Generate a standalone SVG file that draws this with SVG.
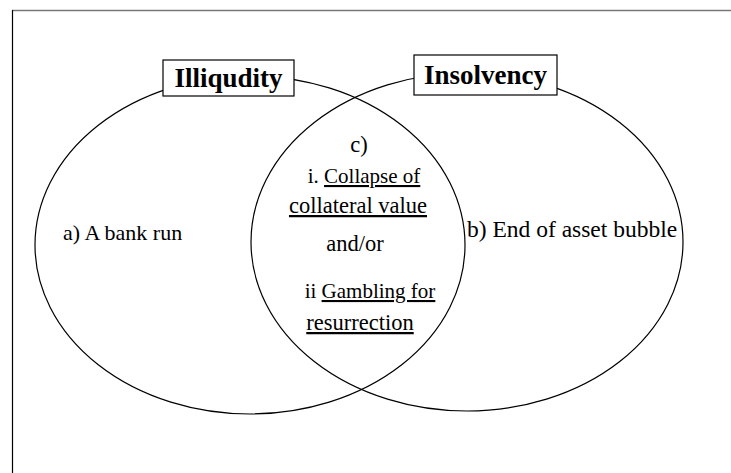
<svg xmlns="http://www.w3.org/2000/svg" width="731" height="473" viewBox="0 0 731 473">
<style>
.ell{fill:none;stroke:#000;stroke-width:1.2}
.box{fill:#fff;stroke:#000;stroke-width:1.2}
.title{font-family:"Liberation Serif","Times New Roman",serif;font-weight:bold;font-size:27px;fill:#000}
.t{font-family:"Liberation Serif","Times New Roman",serif;font-size:22.5px;fill:#000}
.s{font-size:21px}
.u{text-decoration:underline}
</style>
<rect width="731" height="473" fill="#fff"/>
<g id="frame">
<line x1="12" y1="10.5" x2="731" y2="10.5" stroke="#777" stroke-width="1.5"/>
<line x1="12.5" y1="10" x2="12.5" y2="473" stroke="#000" stroke-width="1.2"/>
</g>
<g id="connectors"></g>
<g id="illiquidity-circle">
<ellipse class="ell" cx="250" cy="245" rx="215" ry="169"/>
</g>
<g id="insolvency-circle">
<ellipse class="ell" cx="467" cy="242" rx="216" ry="169"/>
</g>
<g id="illiquidity-label">
<rect class="box" x="163" y="60" width="131" height="36"/>
<text class="title" x="228.5" y="87" text-anchor="middle">Illiqudity</text>
</g>
<g id="insolvency-label">
<rect class="box" x="414" y="55" width="143" height="40"/>
<text class="title" x="485.5" y="84" text-anchor="middle">Insolvency</text>
</g>
<g id="a-text">
<text class="t" x="63" y="240" style="font-size:22px">a) A bank run</text>
</g>
<g id="b-text">
<text class="t" x="467" y="237" style="font-size:23.5px">b) End of asset bubble</text>
</g>
<g id="c-text">
<text class="t" x="359" y="152" text-anchor="middle">c)</text>
<text class="t s" x="364" y="183" text-anchor="middle">i. <tspan class="u">Collapse of</tspan></text>
<text class="t" x="358" y="213" text-anchor="middle"><tspan class="u">collateral value</tspan></text>
<text class="t" x="355" y="251" text-anchor="middle">and/or</text>
<text class="t s" x="370" y="298" text-anchor="middle">ii <tspan class="u">Gambling for</tspan></text>
<text class="t" x="360" y="330" text-anchor="middle"><tspan class="u">resurrection</tspan></text>
</g>
</svg>
